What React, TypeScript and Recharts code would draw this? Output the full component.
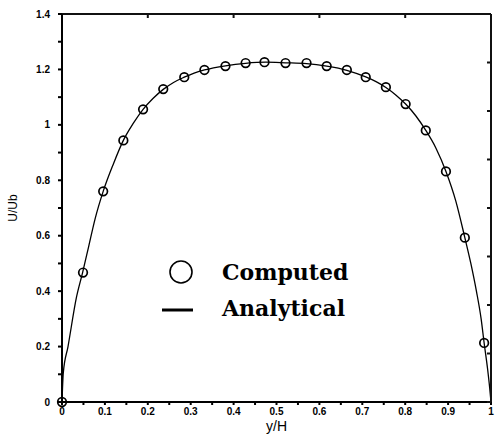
import React from 'react';
import {
  ComposedChart,
  Line,
  Scatter,
  XAxis,
  YAxis,
  Legend,
  ReferenceLine,
} from 'recharts';

// computed points (y/H, U/Ub)
const computedYH = [
  0, 0.049, 0.096, 0.143, 0.189, 0.236, 0.285, 0.332, 0.381, 0.428, 0.472,
  0.521, 0.57, 0.617, 0.664, 0.708, 0.755, 0.801, 0.848, 0.895, 0.939, 0.984,
];
const computedU = [
  0, 0.467, 0.76, 0.944, 1.056, 1.129, 1.172, 1.198, 1.212, 1.223, 1.226,
  1.223, 1.223, 1.212, 1.198, 1.172, 1.136, 1.075, 0.98, 0.832, 0.593, 0.213,
];

// analytical curve
const analyticalYH = [
  0, 0.003, 0.014, 0.034, 0.048, 0.062, 0.077, 0.096, 0.12, 0.143, 0.166,
  0.189, 0.212, 0.236, 0.26, 0.285, 0.308, 0.332, 0.381, 0.428, 0.475, 0.521,
  0.57, 0.617, 0.664, 0.708, 0.732, 0.755, 0.778, 0.801, 0.825, 0.848, 0.872,
  0.895, 0.918, 0.939, 0.953, 0.966, 0.977, 0.984, 0.992, 0.997, 1,
];
const analyticalU = [
  0, 0.105, 0.2, 0.38, 0.467, 0.56, 0.66, 0.76, 0.86, 0.944, 1.005,
  1.056, 1.095, 1.128, 1.153, 1.172, 1.187, 1.198, 1.213, 1.222, 1.226, 1.224,
  1.221, 1.212, 1.197, 1.173, 1.156, 1.135, 1.108, 1.075, 1.032, 0.98, 0.915,
  0.832, 0.725, 0.593, 0.5, 0.4, 0.3, 0.213, 0.12, 0.05, 0,
];

const xTicks = [
  0, 0.05, 0.1, 0.15, 0.2, 0.25, 0.3, 0.35, 0.4, 0.45, 0.5, 0.55, 0.6, 0.65,
  0.7, 0.75, 0.8, 0.85, 0.9, 0.95, 1,
];
const xTopTicks = [0, 0.2, 0.4, 0.6, 0.8, 1];
const yTicks = [
  0, 0.1, 0.2, 0.3, 0.4, 0.5, 0.6, 0.7, 0.8, 0.9, 1, 1.1, 1.2, 1.3, 1.4,
];
const yRightTicks = [0, 1, 2, 3, 4, 5, 6, 7, 8];

const computed = computedYH.map((x, i) => ({ x, u: computedU[i] }));
const analytical = analyticalYH.map((x, i) => ({ x, u: analyticalU[i] }));
// anchors the top/right frame axes
const frameAnchor = [{ x: 0, u: 0 }];

const frameColor = '#111';

const tickFont = {
  fontFamily: 'Liberation Sans, Arial, sans-serif',
  fontWeight: 'bold' as const,
  fontSize: 10,
  fill: '#000',
};

const fmtX = (v: number) => {
  const k = Math.round(v * 100);
  if (k % 10 !== 0) return '';
  return k === 0 ? '0' : k === 100 ? '1' : String(k / 100);
};

const fmtY = (v: number) => {
  const k = Math.round(v * 10);
  if (k % 2 !== 0) return '';
  return k === 0 ? '0' : k === 10 ? '1' : String(k / 10);
};

const LegendBox = () => (
  <div
    style={{
      fontFamily: 'DejaVu Serif, serif',
      fontWeight: 'bold',
      fontSize: 22,
      color: '#000',
      lineHeight: '36px',
    }}
  >
    <div style={{ display: 'flex', alignItems: 'center', height: 36 }}>
      <svg width={62} height={36}>
        <circle cx={21} cy={18} r={11} fill="none" stroke="#000" strokeWidth={1.6} />
      </svg>
      <span>Computed</span>
    </div>
    <div style={{ display: 'flex', alignItems: 'center', height: 36 }}>
      <svg width={62} height={36}>
        <line x1={2} x2={33} y1={20} y2={20} stroke="#000" strokeWidth={3} />
      </svg>
      <span>Analytical</span>
    </div>
  </div>
);

const yLabel = ({ viewBox }: any) => {
  const cx = 13;
  const cy = viewBox.y + viewBox.height / 2;
  return (
    <text
      x={cx}
      y={cy}
      textAnchor="middle"
      dominantBaseline="central"
      transform={`rotate(-90 ${cx} ${cy})`}
      fontFamily="Liberation Sans, Arial, sans-serif"
      fontSize={12}
      fill="#000"
    >
      U/Ub
    </text>
  );
};

const xLabel = ({ viewBox }: any) => (
  <text
    x={viewBox.x + viewBox.width / 2}
    y={viewBox.y + 29}
    textAnchor="middle"
    fontFamily="Liberation Sans, Arial, sans-serif"
    fontSize={14}
    fill="#000"
  >
    y/H
  </text>
);

export default function App() {
  return (
    <div style={{ position: 'absolute', left: 0, top: 0, width: 496, height: 440 }}>
      <ComposedChart
        width={496}
        height={440}
        margin={{ top: 14, right: 5, bottom: 0, left: 0 }}
      >
        <XAxis
          xAxisId="b"
          type="number"
          dataKey="x"
          domain={[0, 1]}
          ticks={xTicks}
          tickFormatter={fmtX}
          interval={0}
          height={38}
          stroke="#000"
          strokeWidth={2}
          tickSize={3}
          tickMargin={3}
          tick={tickFont}
          label={{ content: xLabel }}
        />
        <XAxis
          xAxisId="t"
          orientation="top"
          type="number"
          dataKey="x"
          domain={[0, 1]}
          ticks={xTopTicks}
          height={1}
          mirror
          tick={() => <g />}
          tickSize={4}
          stroke={frameColor}
          strokeWidth={2}
        />
        <YAxis
          yAxisId="l"
          type="number"
          domain={[0, 1.4]}
          ticks={yTicks}
          tickFormatter={fmtY}
          interval={0}
          width={62}
          stroke="#000"
          strokeWidth={2}
          tickSize={4}
          tickMargin={8}
          tick={tickFont}
          label={{ content: yLabel }}
        />
        <YAxis
          yAxisId="r"
          orientation="right"
          type="number"
          domain={[0, 8]}
          ticks={yRightTicks}
          width={1}
          mirror
          tick={() => <g />}
          tickSize={4}
          stroke={frameColor}
          strokeWidth={2}
        />
        <ReferenceLine xAxisId="b" yAxisId="l" y={1.4} stroke={frameColor} strokeWidth={2} />
        <ReferenceLine xAxisId="b" yAxisId="l" x={1} stroke={frameColor} strokeWidth={2} />
        <Legend
          layout="vertical"
          align="center"
          verticalAlign="middle"
          content={() => <LegendBox />}
          wrapperStyle={{ left: 160, top: 254, width: 220 }}
        />
        <Scatter
          xAxisId="t"
          yAxisId="r"
          data={frameAnchor}
          dataKey="u"
          isAnimationActive={false}
          legendType="none"
          shape={() => <g />}
        />
        <Line
          xAxisId="b"
          yAxisId="l"
          data={analytical}
          dataKey="u"
          type="monotone"
          stroke="#000"
          strokeWidth={1.3}
          dot={false}
          activeDot={false}
          isAnimationActive={false}
          legendType="none"
        />
        <Scatter
          xAxisId="b"
          yAxisId="l"
          data={computed}
          dataKey="u"
          isAnimationActive={false}
          legendType="none"
          shape={(p: any) => (
            <circle cx={p.cx} cy={p.cy} r={4.3} fill="none" stroke="#000" strokeWidth={1.7} />
          )}
        />
      </ComposedChart>
    </div>
  );
}
